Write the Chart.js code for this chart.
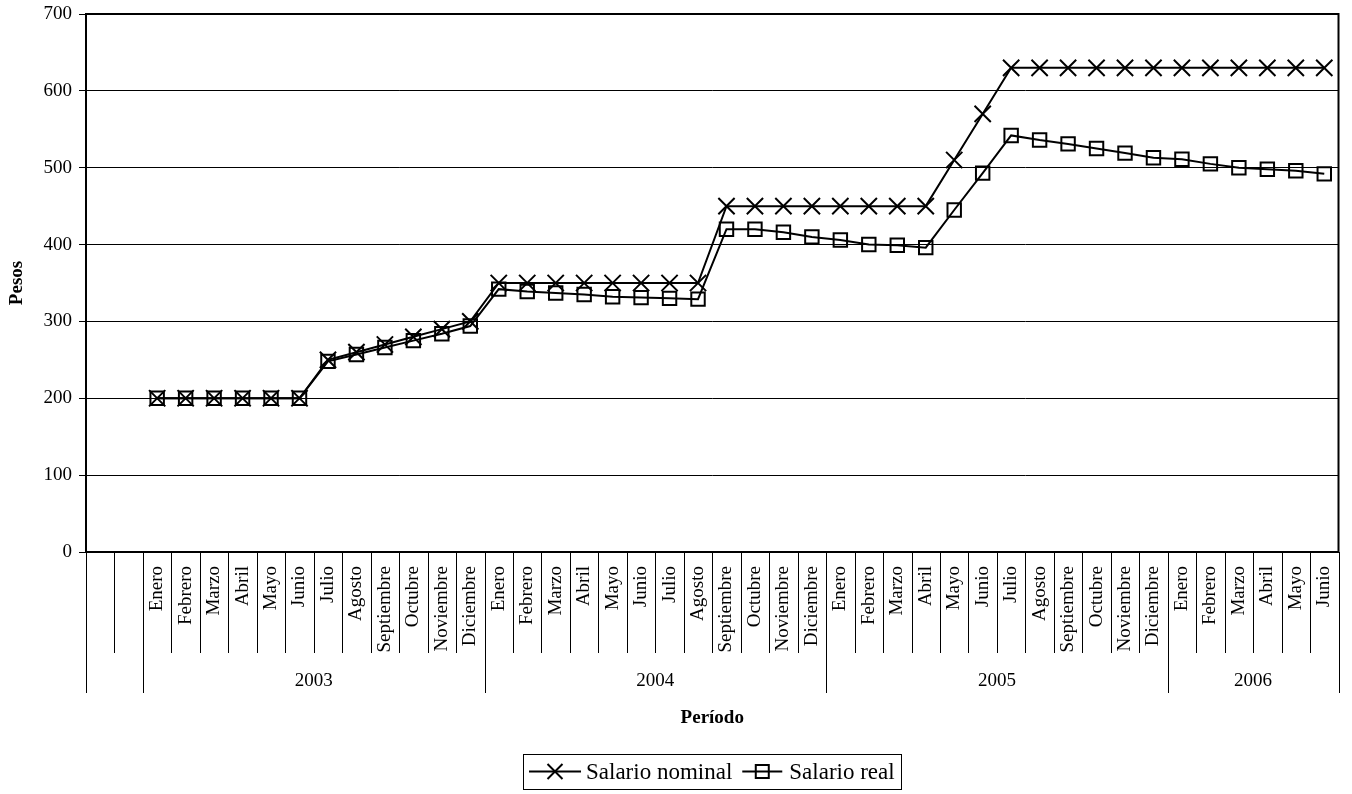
<!DOCTYPE html>
<html>
<head>
<meta charset="utf-8">
<script src="https://cdn.jsdelivr.net/npm/chart.js@4/dist/chart.umd.min.js"></script>
<style>
html,body{margin:0;padding:0;background:#fff;}
#wrap{width:1352px;height:794px;}
</style>
</head>
<body>
<div id="wrap"><canvas id="c" width="1352" height="794"></canvas></div>
<script>
// ---- data ----
const months = ['', '',
  'Enero','Febrero','Marzo','Abril','Mayo','Junio','Julio','Agosto','Septiembre','Octubre','Noviembre','Diciembre',
  'Enero','Febrero','Marzo','Abril','Mayo','Junio','Julio','Agosto','Septiembre','Octubre','Noviembre','Diciembre',
  'Enero','Febrero','Marzo','Abril','Mayo','Junio','Julio','Agosto','Septiembre','Octubre','Noviembre','Diciembre',
  'Enero','Febrero','Marzo','Abril','Mayo','Junio'];
const years = ['', '2003', '2004', '2005', '2006'];
const yearSpans = [2, 12, 12, 12, 6];
const nominal = [null, null,
  200,200,200,200,200,200,250,260,270,280,290,300,
  350,350,350,350,350,350,350,350,450,450,450,450,
  450,450,450,450,510,570,630,630,630,630,630,630,
  630,630,630,630,630,630];
const real = [null, null,
  200,200,200,200,200,200,248,257,266,275,284,294,
  342,339,337,335,332,331,330,329,420,420,416,410,
  406,400,399,396,445,493,542,536,531,525,519,513,
  511,505,500,498,496,492];
const seriesNames = ['Salario nominal', 'Salario real'];
const yTicks = [0,100,200,300,400,500,600,700];
const xTitle = 'Período';
const yTitle = 'Pesos';

const FONT = '"Liberation Serif", "Times New Roman", serif';

const multiAxis = {
  id: 'multiAxis',
  afterDraw(chart) {
    const ctx = chart.ctx, a = chart.chartArea, xs = chart.scales.x;
    const w = xs.getPixelForValue(1) - xs.getPixelForValue(0);
    const edge = i => xs.getPixelForValue(i) - w / 2;
    ctx.save();
    ctx.strokeStyle = '#000';
    ctx.lineWidth = 1;
    const gb = new Set([0]);
    let acc = 0;
    yearSpans.forEach(s => { acc += s; gb.add(acc); });
    for (let i = 0; i <= months.length; i++) {
      const x = Math.round(edge(i)) + 0.5;
      ctx.beginPath();
      ctx.moveTo(x, a.bottom);
      ctx.lineTo(x, gb.has(i) ? 693 : 653);
      ctx.stroke();
    }
    ctx.fillStyle = '#000';
    ctx.font = '19px ' + FONT;
    months.forEach((m, i) => {
      if (!m) return;
      const x = xs.getPixelForValue(i);
      ctx.save();
      ctx.translate(x, 566);
      ctx.rotate(-Math.PI / 2);
      ctx.textAlign = 'right';
      ctx.textBaseline = 'middle';
      ctx.fillText(m, 0, 0);
      ctx.restore();
    });
    acc = 0;
    ctx.textAlign = 'center';
    ctx.textBaseline = 'middle';
    years.forEach((y, k) => {
      const s = acc, e = acc + yearSpans[k];
      acc = e;
      if (!y) return;
      ctx.fillText(y, (edge(s) + edge(e)) / 2, 681);
    });
    // plot border
    ctx.lineWidth = 2;
    ctx.strokeRect(a.left, a.top, a.right - a.left, a.bottom - a.top);
    // titles
    ctx.font = 'bold 19px ' + FONT;
    ctx.fillText(xTitle, (a.left + a.right) / 2, 718);
    ctx.save();
    ctx.translate(17, (a.top + a.bottom) / 2);
    ctx.rotate(-Math.PI / 2);
    ctx.fillText(yTitle, 0, 0);
    ctx.restore();
    // legend
    ctx.font = '23px ' + FONT;
    const t1 = ctx.measureText(seriesNames[0]).width;
    const t2 = ctx.measureText(seriesNames[1]).width;
    const total = 6 + 52 + 5 + t1 + 10 + 40 + 7 + t2 + 6;
    const left = Math.round(712 - total / 2);
    const top = 754, h = 35, cy = top + h / 2;
    ctx.lineWidth = 1;
    ctx.strokeRect(left + 0.5, top + 0.5, Math.round(total), h);
    ctx.lineWidth = 2;
    let sx = left + 6;
    ctx.beginPath(); ctx.moveTo(sx, cy); ctx.lineTo(sx + 52, cy); ctx.stroke();
    const xc = sx + 26;
    ctx.beginPath();
    ctx.moveTo(xc - 7.5, cy - 7.5); ctx.lineTo(xc + 7.5, cy + 7.5);
    ctx.moveTo(xc + 7.5, cy - 7.5); ctx.lineTo(xc - 7.5, cy + 7.5);
    ctx.stroke();
    ctx.textAlign = 'left';
    ctx.fillText(seriesNames[0], sx + 57, cy + 1);
    sx = sx + 57 + t1 + 10;
    ctx.beginPath(); ctx.moveTo(sx, cy); ctx.lineTo(sx + 40, cy); ctx.stroke();
    const sc = sx + 20;
    ctx.strokeRect(sc - 6.5, cy - 6.5, 13, 13);
    ctx.fillText(seriesNames[1], sx + 47, cy + 1);
    ctx.restore();
  }
};

new Chart(document.getElementById('c'), {
  type: 'line',
  data: {
    labels: months,
    datasets: [
      {
        label: seriesNames[0],
        data: nominal,
        borderColor: '#000',
        borderWidth: 2,
        pointStyle: 'crossRot',
        pointRadius: 11.5,
        pointBorderWidth: 2,
        pointBorderColor: '#000',
        pointBackgroundColor: 'rgba(0,0,0,0)',
        tension: 0,
        spanGaps: false
      },
      {
        label: seriesNames[1],
        data: real,
        borderColor: '#000',
        borderWidth: 2,
        pointStyle: 'rect',
        pointRadius: 9.5,
        pointBorderWidth: 2,
        pointBorderColor: '#000',
        pointBackgroundColor: 'rgba(0,0,0,0)',
        tension: 0,
        spanGaps: false
      }
    ]
  },
  options: {
    responsive: false,
    animation: false,
    devicePixelRatio: 1,
    layout: { padding: { left: 0, right: 10, top: 14, bottom: 242 } },
    plugins: { legend: { display: false }, tooltip: { enabled: false } },
    scales: {
      x: { display: false, offset: true },
      y: {
        min: 0, max: 700,
        afterFit(scale) { scale.width = 86; scale.paddingTop = 0; scale.paddingBottom = 0; },
        afterBuildTicks(scale) { scale.ticks = yTicks.map(v => ({ value: v })); },
        ticks: { color: '#000', font: { family: FONT, size: 19 }, padding: 7 },
        grid: { color: '#000', lineWidth: 1, tickLength: 7, tickColor: '#000' },
        border: { display: false }
      }
    }
  },
  plugins: [multiAxis]
});
</script>
</body>
</html>
